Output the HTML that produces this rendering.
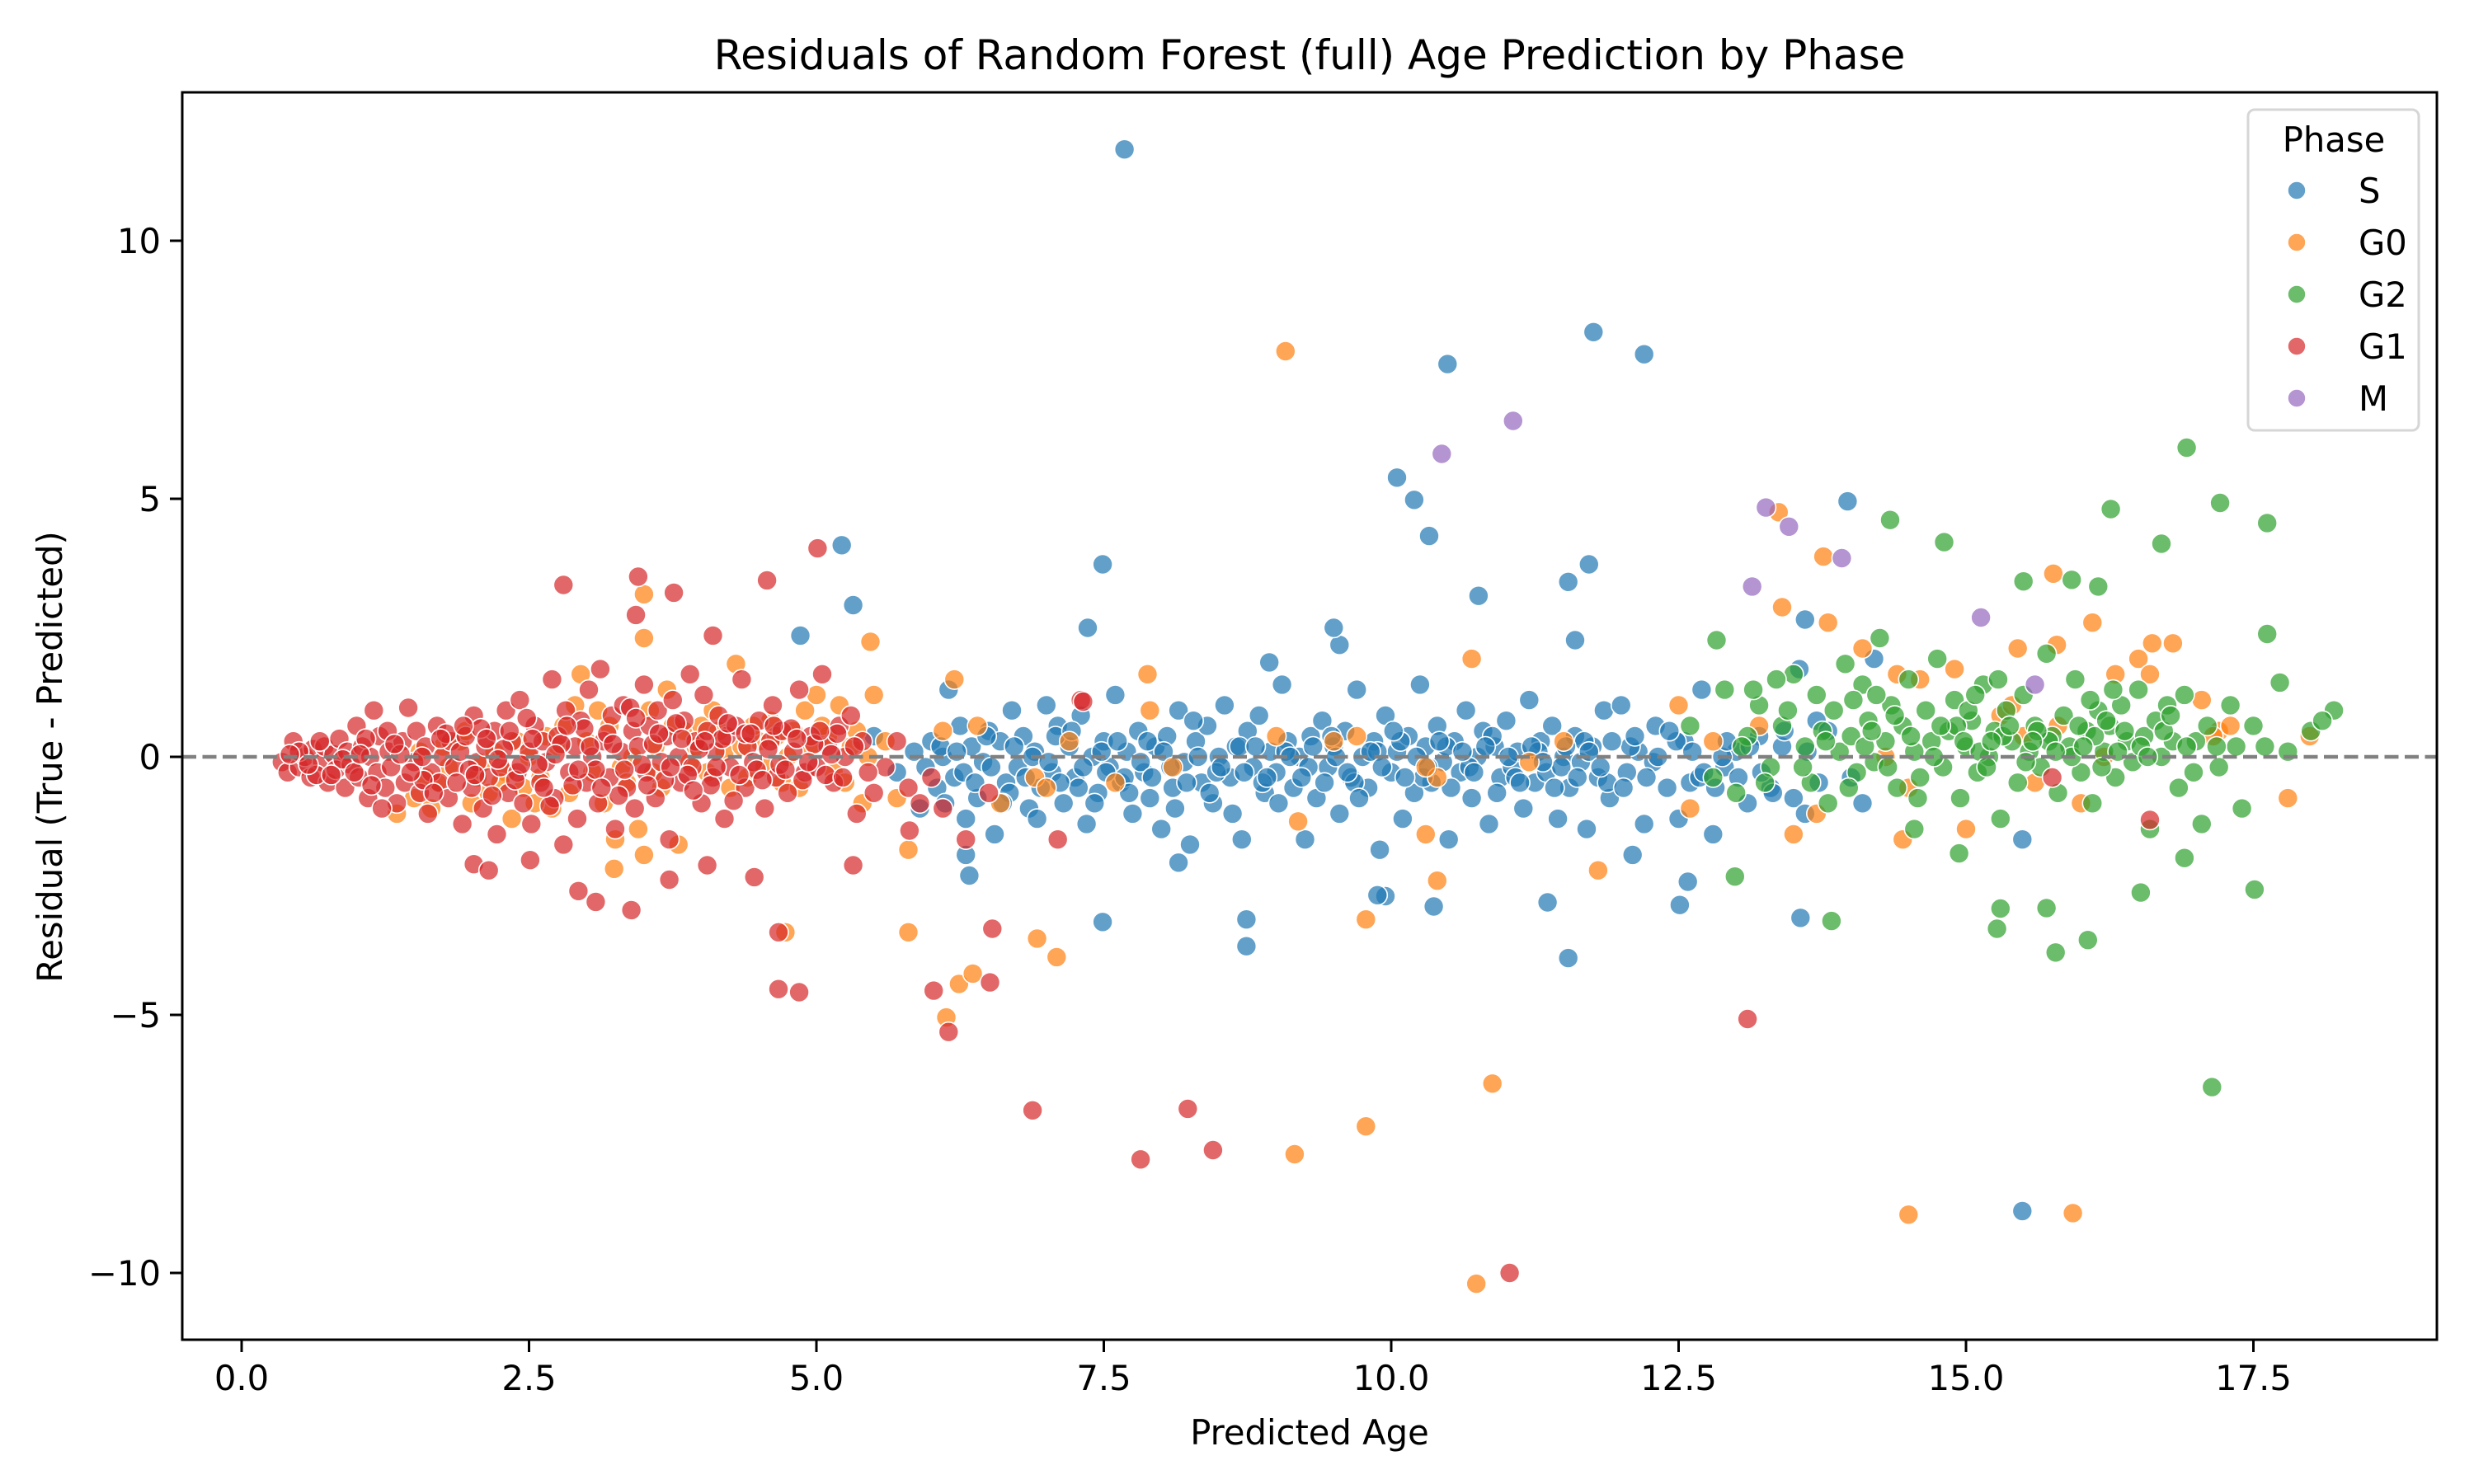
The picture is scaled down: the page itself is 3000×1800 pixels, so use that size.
<!DOCTYPE html>
<html><head><meta charset="utf-8"><style>
html,body{margin:0;padding:0;background:#fff;}
svg{display:block;font-family:"DejaVu Sans","Liberation Sans",sans-serif;}
</style></head><body>
<svg id="chart" width="3000" height="1800" viewBox="0 0 3000 1800" xmlns="http://www.w3.org/2000/svg">
<rect x="0" y="0" width="3000" height="1800" fill="#fff"/>
<text x="1588" y="84" font-size="50" text-anchor="middle" fill="#000">Residuals of Random Forest (full) Age Prediction by Phase</text>
<g id="points"></g>
<rect x="221" y="112" width="2734" height="1513" fill="none" stroke="#000" stroke-width="3"/>
<g id="axes"></g>
<text x="1588" y="1752" font-size="41.7" text-anchor="middle">Predicted Age</text>
<text transform="translate(75,918) rotate(-90)" font-size="41.7" text-anchor="middle">Residual (True - Predicted)</text>
<g>
<rect x="2726" y="133" width="207" height="389" rx="8" fill="#fff" fill-opacity="0.8" stroke="#d6d6d6" stroke-width="3"/>
<text x="2830" y="184" font-size="41.7" text-anchor="middle">Phase</text>
<g id="legend-items"></g>
</g>
</svg>
<script>
// ---- data ----
const categories = ["S","G0","G2","G1","M"];
const colors = ["#1f77b4","#ff7f0e","#2ca02c","#d62728","#9467bd"];
const xTicks = [0,2.5,5,7.5,10,12.5,15,17.5];
const xTickLabels = ["0.0","2.5","5.0","7.5","10.0","12.5","15.0","17.5"];
const yTicks = [-10,-5,0,5,10];
const yTickLabels = ["\u221210","\u22125","0","5","10"];

const sPoints = "5.5,0.4;5.7,-0.3;5.85,0.1;5.9,-1.0;6.0,0.3;6.05,-0.6;6.1,0.0;6.15,1.3;6.2,-0.4;6.25,0.6;6.3,-1.2;6.35,0.2;6.4,-0.8;6.45,-0.1;6.5,0.5;6.55,-1.5;6.6,0.3;6.65,-0.5;6.7,0.9;6.75,-0.2;6.8,0.4;6.85,-1.0;6.9,0.1;6.95,-0.6;7.0,1.0;7.05,-0.3;7.1,0.6;7.15,-0.9;7.2,0.2;7.25,-0.4;7.3,0.8;7.35,-1.3;7.4,0.0;7.45,-0.7;7.5,0.3;7.55,-0.2;7.6,1.2;7.65,-0.5;7.7,0.1;7.75,-1.1;7.8,0.5;7.85,-0.3;7.9,-0.8;7.95,0.2;8.0,-1.4;8.05,0.4;8.1,-0.6;8.15,0.9;8.2,-0.1;8.25,-1.7;8.3,0.3;8.35,-0.5;8.4,0.6;8.45,-0.9;8.5,0.0;8.55,1.0;8.6,-0.4;8.65,0.2;8.7,-1.6;8.75,0.5;8.8,-0.2;8.85,0.8;8.9,-0.7;8.95,0.1;9.0,-0.3;9.05,1.4;9.1,0.3;9.15,-0.6;9.2,0.0;9.25,-1.6;9.3,0.4;9.35,-0.8;9.4,0.7;9.45,-0.2;9.5,0.2;9.55,-1.1;9.6,0.5;9.65,-0.4;9.7,1.3;9.75,0.0;9.8,-0.6;9.85,0.3;9.9,-1.8;9.95,0.8;10.0,-0.3;10.05,0.1;10.1,-1.2;10.15,0.4;10.2,-0.7;10.25,1.4;10.3,0.2;10.35,-0.5;10.4,0.6;10.45,-0.1;10.5,-1.6;10.55,0.3;10.6,-0.3;10.65,0.9;10.7,-0.8;10.75,0.0;10.8,0.5;10.85,-1.3;10.9,0.2;10.95,-0.4;11.0,0.7;11.05,-0.2;11.1,0.1;11.15,-1.0;11.2,1.1;11.25,-0.5;11.3,0.3;11.35,-0.3;11.4,0.6;11.45,-1.2;11.5,0.0;11.55,-0.6;11.6,0.4;11.65,-0.1;11.7,-1.4;11.75,0.2;11.8,-0.4;11.85,0.9;11.9,-0.8;12.0,1.0;12.05,-0.3;12.1,-1.9;12.15,0.1;12.2,-1.3;12.3,0.6;12.4,-0.6;12.5,-1.2;12.55,0.3;12.6,-0.5;12.7,1.3;12.8,-1.5;12.9,-0.2;13.0,0.1;13.1,-0.9;13.2,0.4;13.3,-0.6;13.4,0.2;13.5,-0.8;13.55,1.7;13.6,-1.1;13.7,0.7;13.8,0.5;14.0,-0.4;14.1,-0.9;14.2,1.9;6.08,0.2;6.28,-0.3;6.48,0.4;6.68,-0.7;6.88,0.0;7.08,0.4;7.28,-0.6;7.48,0.1;7.68,-0.4;7.88,0.3;8.08,-0.2;8.28,0.7;8.48,-0.3;8.68,0.2;8.88,-0.5;9.08,0.1;9.28,-0.2;9.48,0.4;9.68,-0.5;9.88,0.1;10.08,0.3;10.28,-0.4;10.48,0.2;10.68,-0.2;10.88,0.4;11.08,-0.4;11.28,0.1;11.48,-0.2;11.68,0.3;11.88,-0.5;12.08,0.2;12.28,-0.1;12.48,0.3;12.68,-0.4;12.88,0.0;5.95,-0.2;6.12,-0.9;6.22,0.1;6.38,-0.5;6.52,-0.2;6.62,-0.9;6.72,0.2;6.82,-0.4;6.92,-1.2;7.02,-0.1;7.12,-0.5;7.22,0.5;7.32,-0.2;7.42,-0.9;7.52,-0.3;7.62,0.3;7.72,-0.7;7.82,-0.1;7.92,-0.4;8.02,0.1;8.12,-1.0;8.22,-0.5;8.32,0.0;8.42,-0.7;8.52,-0.2;8.62,-1.1;8.72,-0.3;8.82,0.2;8.92,-0.4;9.02,-0.9;9.12,0.0;9.22,-0.4;9.32,0.2;9.42,-0.5;9.52,0.0;9.62,-0.3;9.72,-0.8;9.82,0.1;9.92,-0.2;10.02,0.5;10.12,-0.4;10.22,0.0;10.32,-0.2;10.42,0.3;10.52,-0.6;10.62,0.1;10.72,-0.3;10.82,0.2;10.92,-0.7;11.02,0.0;11.12,-0.5;11.22,0.2;11.32,-0.1;11.42,-0.6;11.52,0.2;11.62,-0.4;11.72,0.1;11.82,-0.2;11.92,0.3;12.02,-0.6;12.12,0.4;12.22,-0.4;12.32,0.0;12.42,0.5;12.62,0.1;12.72,-0.3;12.82,-0.6;12.92,0.3;13.02,-0.4;13.12,0.2;13.22,-0.3;13.32,-0.7;13.42,0.5;13.62,0.1;13.72,-0.5;7.68,11.77;10.49,7.61;11.76,8.23;12.2,7.8;10.05,5.41;10.2,4.98;5.22,4.1;5.32,2.94;4.86,2.35;7.49,3.73;7.36,2.5;10.33,4.28;10.76,3.12;11.72,3.73;11.54,3.39;11.6,2.26;13.97,4.95;13.6,2.66;9.55,2.17;9.5,2.5;8.94,1.83;15.49,-1.6;15.49,-8.8;7.49,-3.2;8.74,-3.15;8.74,-3.67;11.54,-3.9;11.36,-2.82;9.95,-2.7;9.88,-2.68;10.37,-2.9;12.51,-2.87;12.58,-2.42;13.56,-3.12;6.33,-2.3;6.3,-1.9;8.15,-2.05";
const g0Points = "1.35,-1.1;1.5,-0.8;1.55,0.1;1.65,-1.0;1.7,-0.5;1.8,-0.2;1.9,0.3;1.95,0.5;2.0,-0.9;2.05,-0.4;2.1,-0.1;2.15,-0.7;2.2,0.1;2.3,-0.3;2.35,-1.2;2.45,-0.6;2.5,0.0;2.6,-0.4;2.65,0.4;2.7,-1.0;2.75,0.2;2.85,-0.7;2.9,1.0;2.95,1.6;3.0,0.3;3.05,-0.3;3.15,-0.9;3.2,0.6;3.25,-1.6;3.3,-0.2;3.4,0.0;3.45,-1.4;3.5,-1.9;3.55,0.9;3.6,0.2;3.65,-0.6;3.7,1.3;3.8,-1.7;3.85,0.5;3.9,-0.1;4.0,0.6;4.1,0.9;4.2,0.1;4.3,1.8;4.4,-0.4;4.5,0.3;4.6,0.7;4.7,-0.5;4.8,0.5;4.9,0.9;5.0,1.2;5.1,0.4;5.15,-0.3;5.2,1.0;5.3,0.2;5.4,-0.9;5.5,1.2;5.6,0.3;5.7,-0.8;5.8,-1.8;6.1,0.5;6.2,1.5;6.4,0.6;6.6,-0.9;6.9,-0.4;7.0,-0.6;7.2,0.3;7.6,-0.5;7.9,0.9;8.1,-0.2;9.0,0.4;9.5,0.3;9.7,0.4;10.4,-0.4;10.3,-1.5;10.3,-0.2;11.2,-0.1;11.5,0.3;11.8,-2.2;12.5,1.0;12.6,-1.0;12.8,0.3;13.2,0.6;13.4,2.9;13.5,-1.5;13.7,-1.1;13.8,2.6;14.1,2.1;14.3,0.0;14.4,1.6;14.45,-1.6;14.5,-0.6;14.9,1.7;15.0,-1.4;15.3,0.8;15.4,1.0;15.45,2.1;15.5,0.4;15.6,-0.5;15.8,0.6;16.0,-0.9;16.1,2.6;16.2,0.0;16.3,1.6;16.5,1.9;16.6,1.6;16.8,2.2;17.2,0.5;17.3,0.6;17.05,1.1;17.15,0.4;1.6,-0.4;1.75,0.2;2.25,-0.5;2.4,0.3;2.55,-0.9;2.8,0.6;3.1,0.9;3.35,-0.5;3.58,-0.3;3.75,0.6;3.95,0.2;4.05,-0.3;4.15,0.5;4.25,-0.6;4.35,0.2;4.45,0.6;4.55,-0.2;4.65,0.4;4.75,0.0;4.85,-0.6;4.95,0.2;5.05,0.6;5.25,-0.5;5.35,0.5;5.45,0.0;9.08,7.86;13.37,4.74;13.76,3.88;15.76,3.55;3.5,2.3;3.5,3.15;5.47,2.23;14.6,1.5;6.24,-4.4;6.13,-5.05;6.36,-4.2;5.8,-3.4;6.92,-3.52;7.09,-3.88;4.73,-3.4;9.78,-7.16;9.16,-7.7;10.88,-6.33;10.74,-10.21;14.5,-8.87;15.93,-8.84;9.78,-3.15;10.4,-2.4;3.24,-2.17;15.79,2.17;16.62,2.2;17.99,0.4;17.8,-0.8;10.7,1.9;7.88,1.6;9.19,-1.25";
const g2Points = "12.6,0.6;12.8,-0.4;12.9,1.3;13.0,-0.7;13.1,0.4;13.2,1.0;13.3,-0.2;13.4,0.6;13.5,1.6;13.6,0.2;13.65,-0.5;13.7,1.2;13.75,0.5;13.8,-0.9;13.85,0.9;13.9,0.1;13.95,1.8;14.0,0.4;14.05,-0.3;14.1,1.4;14.15,0.7;14.2,-0.1;14.25,2.3;14.3,0.3;14.35,1.0;14.4,-0.6;14.45,0.6;14.5,1.5;14.55,0.1;14.6,-0.4;14.65,0.9;14.7,0.3;14.75,1.9;14.8,-0.2;14.85,0.5;14.9,1.1;14.95,-0.8;15.0,0.2;15.05,0.7;15.1,-0.3;15.15,1.4;15.2,0.0;15.25,0.5;15.3,-1.2;15.35,0.9;15.4,0.3;15.45,-0.5;15.5,1.2;15.55,0.1;15.6,0.6;15.65,-0.2;15.7,2.0;15.75,0.4;15.8,-0.7;15.85,0.8;15.9,0.2;15.95,1.5;16.0,-0.3;16.05,0.5;16.1,-0.9;16.15,0.9;16.2,0.1;16.25,0.6;16.3,-0.4;16.35,1.0;16.4,0.3;16.45,-0.1;16.5,1.3;16.55,0.4;16.6,-1.4;16.65,0.7;16.7,0.0;16.75,1.0;16.8,0.3;16.85,-0.6;16.9,1.2;17.0,0.3;17.05,-1.3;17.1,0.6;17.2,-0.2;17.3,1.0;17.35,0.2;17.4,-1.0;17.5,0.6;17.6,0.2;17.8,0.1;18.0,0.5;18.2,0.9;18.1,0.7;14.12,0.2;14.32,-0.2;14.52,0.4;14.72,0.0;14.92,0.6;15.12,0.1;15.32,0.4;15.52,-0.1;15.72,0.3;15.92,0.0;16.12,0.4;16.32,0.1;16.52,0.2;16.72,0.5;16.92,0.2;15.02,0.9;15.22,0.3;15.62,0.5;16.02,0.2;16.22,0.7;13.05,0.2;13.25,-0.5;13.45,0.9;13.58,-0.2;13.78,0.3;13.98,-0.6;14.18,0.5;14.38,0.8;14.58,-0.8;14.78,0.6;14.98,0.3;15.18,-0.2;15.38,0.6;15.58,0.3;15.78,0.1;15.98,0.6;16.18,-0.2;16.38,0.5;16.58,0.0;16.78,0.8;16.98,-0.3;17.18,0.2;13.15,1.3;13.35,1.5;14.02,1.1;14.22,1.2;15.08,1.2;15.28,1.5;16.08,1.1;16.28,1.3;16.92,5.99;17.21,4.92;17.62,4.53;16.26,4.8;14.34,4.59;14.81,4.16;16.7,4.13;16.15,3.3;15.92,3.43;15.5,3.4;17.62,2.38;17.73,1.44;17.14,-6.4;15.3,-2.94;15.27,-3.33;15.78,-3.79;15.7,-2.93;16.06,-3.55;16.52,-2.63;17.51,-2.57;16.9,-1.96;12.99,-2.32;13.83,-3.18;14.94,-1.87;14.55,-1.4;12.83,2.26";
const g1Points = "0.35,-0.1;0.4,-0.3;0.45,0.3;0.5,-0.2;0.55,0.0;0.6,-0.4;0.62,0.15;0.7,-0.1;0.72,0.2;0.75,-0.5;0.8,0.05;0.82,-0.25;0.85,0.35;0.9,-0.6;0.92,0.1;0.95,-0.15;1.0,0.6;1.02,-0.4;1.05,0.2;1.1,-0.8;1.12,0.0;1.15,0.9;1.18,-0.3;1.2,0.4;1.25,-0.6;1.28,0.1;1.3,-0.2;1.35,-0.9;1.4,0.3;1.42,-0.5;1.45,0.95;1.5,-0.1;1.52,0.5;1.55,-0.7;1.6,0.2;1.62,-1.1;1.65,-0.3;1.7,0.6;1.72,-0.5;1.75,0.0;1.8,-0.8;1.82,0.3;1.85,-0.2;1.9,0.1;1.92,-1.3;1.95,0.4;2.0,-0.6;2.02,0.8;2.05,-0.1;2.1,-1.0;2.12,0.2;2.15,-0.4;2.2,0.5;2.22,-1.5;2.25,-0.2;2.3,0.9;2.32,-0.7;2.35,0.3;2.4,-0.3;2.42,1.1;2.45,-0.9;2.5,0.1;2.52,-1.3;2.55,0.6;2.6,-0.5;2.62,0.3;2.65,-0.1;2.7,1.5;2.72,-0.8;2.75,0.4;2.8,-1.7;2.82,0.9;2.85,-0.3;2.9,0.2;2.92,-1.2;2.95,0.7;3.0,-0.5;3.02,1.3;3.05,0.0;3.1,-0.9;3.12,1.7;3.15,0.3;3.2,-0.4;3.22,0.8;3.25,-1.4;3.3,0.1;3.32,1.0;3.35,-0.6;3.4,0.5;3.42,-1.0;3.45,0.2;3.5,1.4;3.52,-0.3;3.55,0.6;3.6,-0.8;3.62,0.9;3.65,-0.1;3.7,0.4;3.72,-1.6;3.75,1.1;3.8,0.0;3.82,-0.5;3.85,0.7;3.9,1.6;3.92,-0.2;3.95,0.3;4.0,-0.9;4.02,1.2;4.05,0.5;4.1,-0.4;4.12,0.1;4.15,0.8;4.2,-1.2;4.22,0.4;4.25,-0.2;4.3,0.6;4.35,1.5;4.38,-0.6;4.4,0.2;4.45,-0.1;4.5,0.7;4.55,-1.0;4.6,0.3;4.62,1.0;4.65,-0.4;4.7,0.5;4.75,-0.7;4.8,0.1;4.85,1.3;4.9,-0.3;4.95,0.4;5.0,-0.2;5.05,1.6;5.1,0.2;5.15,-0.5;5.2,0.6;5.25,0.0;5.3,0.8;5.35,-1.1;5.4,0.3;5.5,-0.7;5.6,-0.2;5.7,0.3;5.8,-0.6;5.9,-0.9;6.0,-0.4;6.1,-1.0;6.3,-1.6;6.5,-0.7;7.1,-1.6;7.3,1.1;0.5,0.1;0.65,-0.35;0.88,-0.05;1.08,0.35;1.22,-1.0;1.38,0.05;1.58,-0.45;1.78,0.45;1.98,-0.25;2.08,0.55;2.18,-0.75;2.28,0.15;2.38,-0.45;2.48,0.75;2.58,-0.15;2.68,-0.95;2.78,0.25;2.88,-0.55;2.98,0.55;3.08,-0.25;3.18,0.45;3.28,-0.75;3.38,0.95;3.48,-0.15;3.58,0.25;3.68,-0.45;3.78,0.65;3.88,-0.35;3.98,0.15;4.08,-0.55;4.18,0.35;4.28,-0.85;4.38,0.45;4.48,-0.25;4.58,0.15;4.68,-0.15;4.78,0.55;4.88,-0.45;4.98,0.25;5.08,-0.35;5.18,0.45;0.42,0.05;0.58,-0.15;0.68,0.3;0.78,-0.35;0.98,-0.3;1.03,0.05;1.13,-0.55;1.27,0.5;1.33,0.25;1.47,-0.3;1.57,0.0;1.67,-0.7;1.73,0.35;1.87,-0.5;1.93,0.6;2.03,-0.35;2.13,0.35;2.23,-0.05;2.33,0.5;2.43,-0.15;2.53,0.35;2.63,-0.6;2.73,0.05;2.83,0.6;2.93,-0.25;3.03,0.2;3.13,-0.6;3.23,0.25;3.33,-0.25;3.43,0.75;3.53,-0.55;3.63,0.45;3.73,-0.2;3.83,0.35;3.93,-0.65;4.03,0.3;4.13,-0.2;4.23,0.65;4.33,-0.35;4.43,0.45;4.53,-0.45;4.63,0.6;4.73,-0.25;4.83,0.35;4.93,-0.1;5.03,0.5;5.13,0.05;5.23,-0.4;5.33,0.2;5.45,-0.3;3.45,3.49;3.76,3.18;3.43,2.75;2.8,3.33;4.57,3.42;5.01,4.04;4.1,2.35;6.88,-6.85;7.82,-7.8;8.23,-6.82;8.45,-7.62;11.03,-10.0;13.1,-5.08;6.15,-5.33;6.02,-4.53;6.51,-4.37;6.53,-3.33;4.67,-4.5;4.85,-4.56;4.67,-3.4;3.39,-2.97;3.08,-2.81;2.93,-2.6;4.46,-2.33;4.05,-2.1;3.72,-2.38;5.32,-2.1;2.02,-2.08;2.15,-2.2;2.51,-2.0;16.6,-1.22;15.75,-0.4;7.32,1.07;5.81,-1.43";
const mPoints = "10.44,5.87;11.06,6.51;13.26,4.83;13.46,4.46;13.92,3.85;13.14,3.3;15.13,2.7;15.6,1.4";
const seriesData = [sPoints, g0Points, g2Points, g1Points, mPoints];

// ---- axes ----
const X0 = 293, XU = 139.4, Y0 = 918, YU = 62.6;
function xScale(v){ return X0 + v*XU; }
function yScale(v){ return Y0 - v*YU; }
const NS = "http://www.w3.org/2000/svg";
function mk(tag, attrs){ const e=document.createElementNS(NS,tag); for(const k in attrs) e.setAttribute(k, attrs[k]); return e; }

const axes = document.getElementById('axes');
xTicks.forEach((t,i)=>{
  const x = xScale(t);
  const tk = mk('line',{x1:x,x2:x,y1:1625,y2:1640,stroke:'#000','stroke-width':3});
  
  
  axes.appendChild(tk);
  const lb = mk('text',{x:x,y:1686,'font-size':41.7,'text-anchor':'middle'});
  
  
  lb.textContent = xTickLabels[i];
  axes.appendChild(lb);
});
yTicks.forEach((t,i)=>{
  const y = yScale(t);
  const tk = mk('line',{x1:206,x2:221,y1:y,y2:y,stroke:'#000','stroke-width':3});
  
  
  axes.appendChild(tk);
  const lb = mk('text',{x:195,y:y+15,'font-size':41.7,'text-anchor':'end'});
  
  
  lb.textContent = yTickLabels[i];
  axes.appendChild(lb);
});

// ---- points ----
const pg = document.getElementById('points');
seriesData.forEach((str,si)=>{
  const g = mk('g',{});
  
  
  str.split(';').forEach(p=>{
    const [a,b] = p.split(',').map(Number);
    const c = mk('circle',{cx:xScale(a).toFixed(1),cy:yScale(b).toFixed(1),r:12,fill:colors[si],'fill-opacity':0.7,stroke:'#fff','stroke-width':1.6});
    
    
    g.appendChild(c);
  });
  pg.appendChild(g);
});
const zl = mk('line',{x1:221,x2:2955,y1:yScale(0),y2:yScale(0),stroke:'#808080','stroke-width':4.5,'stroke-dasharray':'17 7.5'});


pg.appendChild(zl);

// ---- legend ----
const li = document.getElementById('legend-items');
categories.forEach((c,i)=>{
  const y = 231 + i*63;
  const m = mk('circle',{cx:2785,cy:y,r:11,fill:colors[i],'fill-opacity':0.7,stroke:'#fff','stroke-width':1.6});
  
  
  li.appendChild(m);
  const t = mk('text',{x:2860,y:y+15,'font-size':41.7});
  
  
  t.textContent = c;
  li.appendChild(t);
});
</script>
</body></html>
